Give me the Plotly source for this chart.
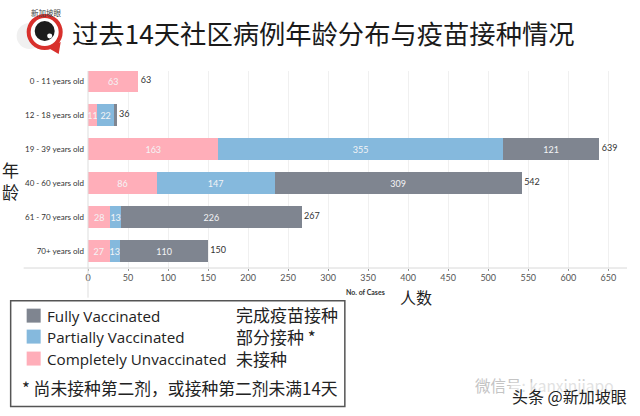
# plot.py
import plotly.graph_objects as go

W, H = 640, 416
LEFT, RIGHT, TOP, BOTTOM = 88.3, 627, 71, 268.3

ages = ["0 - 11 years old", "12 - 18 years old", "19 - 39 years old",
        "40 - 60 years old", "61 - 70 years old", "70+ years old"]
unvaccinated = [63, 11, 163, 86, 28, 27]
partial = [0, 22, 355, 147, 13, 13]
fully = [0, 3, 121, 309, 226, 110]
totals = [63, 36, 639, 542, 267, 150]
x_ticks = list(range(0, 651, 50))

PINK, BLUE, GREY = "#ffaeb9", "#85b9dd", "#7f8590"
CJK = "Noto Sans CJK SC"
LATIN = "Lato"


# pixel position on the page -> paper coordinates
def px(x):
    return (x - LEFT) / (RIGHT - LEFT)


def py(y):
    return (BOTTOM - y) / (BOTTOM - TOP)


def add_text(fig, x, y, text, size, color="#222222", family=CJK, anchor="left", **kw):
    fig.add_annotation(x=px(x), y=py(y), xref="paper", yref="paper", text=text,
                       showarrow=False, xanchor=anchor, yanchor="middle",
                       font=dict(size=size, color=color, family=family), **kw)


def add_box(fig, x0, y0, x1, y1, **kw):
    fig.add_shape(type="rect", xref="paper", yref="paper",
                  x0=px(x0), x1=px(x1), y0=py(y0), y1=py(y1), **kw)


def add_circle(fig, cx, cy, r, color, **kw):
    kw.setdefault("line_width", 0)
    fig.add_shape(type="circle", xref="paper", yref="paper", x0=px(cx - r), x1=px(cx + r),
                  y0=py(cy - r), y1=py(cy + r), fillcolor=color, **kw)


fig = go.Figure()
for name, values, color in [("Completely Unvaccinated", unvaccinated, PINK),
                            ("Partially Vaccinated", partial, BLUE),
                            ("Fully Vaccinated", fully, GREY)]:
    fig.add_trace(go.Bar(
        y=ages, x=values, name=name, orientation="h", width=0.65,
        marker=dict(color=color, line_width=0),
        text=[v if v > 3 else "" for v in values],
        textposition="inside", insidetextanchor="middle", textangle=0,
        constraintext="none",
        textfont=dict(size=9, color="#f4f4f6", family=LATIN),
    ))

fig.add_trace(go.Scatter(
    y=ages, x=totals, mode="text", text=[f" {v}" for v in totals], textposition="middle right",
    textfont=dict(size=9, color="#333333", family=LATIN), cliponaxis=False,
))

fig.update_layout(
    width=W, height=H, barmode="stack", showlegend=False, bargap=0.35,
    paper_bgcolor="white", plot_bgcolor="white",
    margin=dict(l=LEFT, r=W - RIGHT, t=TOP, b=H - BOTTOM, autoexpand=False),
)
fig.update_xaxes(range=[0, (RIGHT - LEFT) / 0.8], tickvals=x_ticks, showgrid=True,
                 gridcolor="#f0f0f0", gridwidth=1, zeroline=False, showline=False,
                 ticks="outside", ticklen=2, tickcolor="#999999", tickwidth=1,
                 ticklabelstandoff=-1,
                 tickfont=dict(size=9, color="#555555", family=LATIN))
fig.update_yaxes(categoryorder="array", categoryarray=ages, autorange=False,
                 range=[5.5, -0.3], showgrid=False, zeroline=False, ticks="",
                 ticklabelstandoff=3,
                 tickfont=dict(size=8, color="#333333", family=LATIN))

# axis lines run past the plot area
fig.add_shape(type="line", xref="paper", yref="paper", x0=px(24), x1=1, y0=0, y1=0,
              line=dict(color="#d8d8d8", width=1))
fig.add_shape(type="line", xref="paper", yref="paper", x0=0, x1=0, y0=py(298), y1=1,
              line=dict(color="#dddddd", width=1))

# title and logo
add_circle(fig, 30, 36, 13, "#f0f0f0")
fig.add_shape(type="path", xref="paper", yref="paper",
              path=f"M {px(47)} {py(47)} L {px(59)} {py(54)} L {px(61)} {py(42)} Z",
              fillcolor="#d8302c", line_width=0)
add_circle(fig, 45, 32, 18, "#d8302c")
add_circle(fig, 45, 32, 14, "white")
add_circle(fig, 45, 31, 10, "#1c1c1c")
add_circle(fig, 50, 36, 2.5, "white")
add_text(fig, 47, 12, "新加坡眼", 7.5, "#444444", anchor="center")
add_text(fig, 70, 32, "过去14天社区病例年龄分布与疫苗接种情况", 26.3, "#1a1a1a")

# axis captions
add_text(fig, 11, 181, "年<br>龄", 17, anchor="center")
add_text(fig, 366, 292, "<b>No. of Cases</b>", 7, "#333333", LATIN, anchor="center")
add_text(fig, 416, 297, "人数", 16, anchor="center")

# legend box
add_box(fig, 11, 301, 345, 407, line=dict(color="#555555", width=1.5), fillcolor="white")
legend_y = [316, 337, 359]
for y, name, color in zip(legend_y,
                          ["Fully Vaccinated", "Partially Vaccinated", "Completely Unvaccinated"],
                          [GREY, BLUE, PINK]):
    add_box(fig, 27, y - 7, 41, y + 7, fillcolor=color, line_width=0)
    add_text(fig, 45, y, name, 15.2, "#222222", "Open Sans")
add_text(fig, 234, 337, "完成疫苗接种<br>部分接种 *<br>未接种", 17, align="left")
add_text(fig, 20, 388, "* 尚未接种第二剂，或接种第二剂未满14天", 16.8)

# watermarks
add_circle(fig, 451, 385, 7, "white", line=dict(color="#cccccc", width=1))
add_circle(fig, 461, 391, 6.5, "white", line=dict(color="#cccccc", width=1))
add_text(fig, 473, 385, "微信号: kanxinjiapo", 15.5, "#c4c4c4")
add_text(fig, 510, 396, "头条 @新加坡眼", 16, "#222222", bgcolor="rgba(255,255,255,0.5)")

# the page's default body margin would push the chart 8px down and right
fig.write_html("out.html", config=dict(displayModeBar=False),
               post_script="document.body.style.margin='0'")
